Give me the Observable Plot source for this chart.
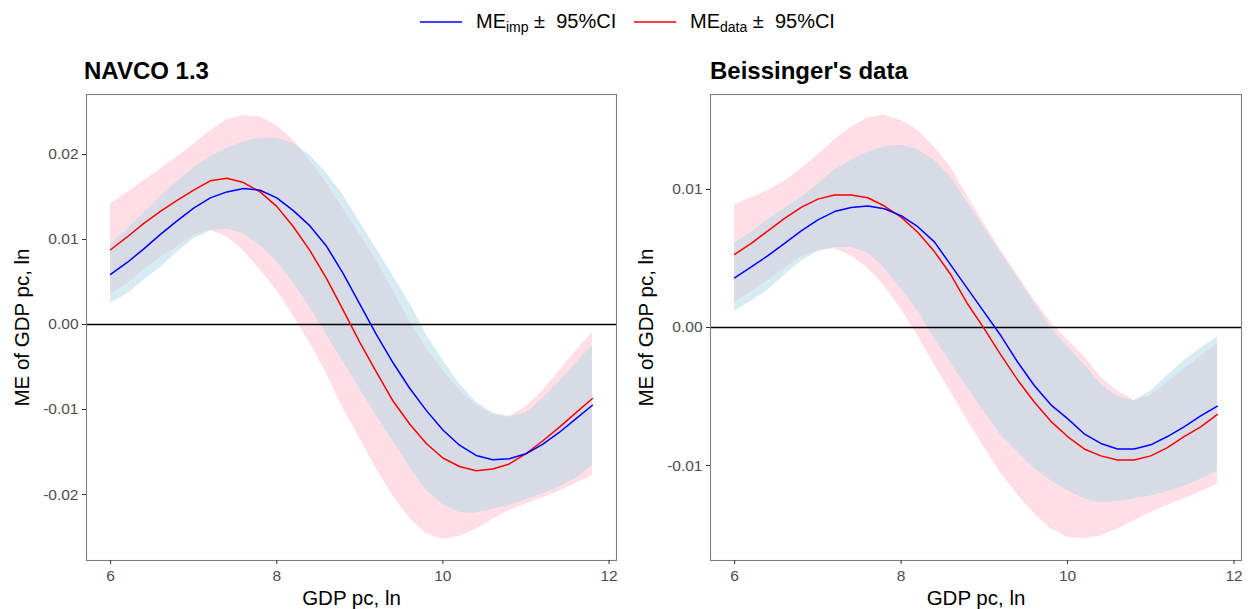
<!DOCTYPE html>
<html>
<head>
<meta charset="utf-8">
<script src="https://cdn.jsdelivr.net/npm/d3@7"></script>
<script src="https://cdn.jsdelivr.net/npm/@observablehq/plot@0.6"></script>
<style>
  body { margin: 0; background: #fff; font-family: "Liberation Sans", Arial, Helvetica, sans-serif; }
  #wrap { position: relative; width: 1256px; height: 609px; overflow: hidden; }
  .panel { position: absolute; top: 0; }
  .title { position: absolute; top: 57px; font-weight: bold; font-size: 24px; color: #000; }
  #legend { position: absolute; top: 7px; left: 0; width: 1256px; height: 30px; font-size: 20px; color: #000; }
  #legend .item { position: absolute; top: 0; display: flex; align-items: center; height: 30px; }
  #legend svg { margin-right: 14px; }
  #legend sub { font-size: 14px; vertical-align: -4px; }
  .panel svg { font-family: "Liberation Sans", Arial, Helvetica, sans-serif; overflow: visible; }
  .panel g[aria-label="y-axis label"], .panel g[aria-label="x-axis label"] { font-size: 20.5px; fill: #000; }
  .panel g[aria-label="y-axis tick label"], .panel g[aria-label="x-axis tick label"] { font-size: 15.5px; fill: #4d4d4d; }
</style>
</head>
<body>
<div id="wrap">
  <div id="legend">
    <div class="item" style="left:420px">
      <svg width="42" height="4"><line x1="0" y1="2" x2="42" y2="2" stroke="blue" stroke-width="1.6"/></svg>
      <span>ME<sub>imp</sub> ±&nbsp; 95%CI</span>
    </div>
    <div class="item" style="left:634px">
      <svg width="42" height="4"><line x1="0" y1="2" x2="42" y2="2" stroke="red" stroke-width="1.6"/></svg>
      <span>ME<sub>data</sub> ±&nbsp; 95%CI</span>
    </div>
  </div>
  <div class="title" style="left:84px">NAVCO 1.3</div>
  <div class="title" style="left:710px">Beissinger's data</div>
  <div id="p1" class="panel" style="left:0px"></div>
  <div id="p2" class="panel" style="left:628px"></div>
</div>
<script>
// GDP pc (ln) grid
const gdp = [6.0,6.2,6.4,6.6,6.8,7.0,7.2,7.4,7.6,7.8,8.0,8.2,8.4,8.6,8.8,9.0,9.2,9.4,9.6,9.8,10.0,10.2,10.4,10.6,10.8,11.0,11.2,11.4,11.6,11.8];

// NAVCO 1.3 — ME_imp
const navcoImp   = [.0059,.0073,.0089,.0106,.0122,.0137,.0149,.0156,.0160,.0158,.0149,.0134,.0116,.0092,.0060,.0024,-.0012,-.0045,-.0075,-.0101,-.0124,-.0142,-.0154,-.0159,-.0158,-.0152,-.0141,-.0127,-.0111,-.0095];
const navcoImpLo = [.0025,.0036,.0052,.0067,.0085,.0101,.0110,.0112,.0107,.0093,.0074,.0049,.0020,-.0012,-.0044,-.0076,-.0107,-.0137,-.0168,-.0195,-.0212,-.0221,-.0222,-.0217,-.0213,-.0206,-.0199,-.0191,-.0181,-.0166];
const navcoImpHi = [.0093,.0112,.0131,.0150,.0168,.0184,.0197,.0207,.0215,.0219,.0219,.0213,.0199,.0178,.0152,.0120,.0089,.0057,.0025,-.0012,-.0042,-.0070,-.0091,-.0104,-.0109,-.0104,-.0088,-.0067,-.0046,-.0025];
// NAVCO 1.3 — ME_data
const navcoData   = [.0088,.0103,.0119,.0133,.0146,.0158,.0169,.0172,.0167,.0156,.0139,.0115,.0087,.0054,.0017,-.0021,-.0056,-.0090,-.0117,-.0140,-.0157,-.0167,-.0172,-.0170,-.0164,-.0152,-.0137,-.0121,-.0104,-.0087];
const navcoDataLo = [.0036,.0048,.0064,.0079,.0091,.0105,.0111,.0103,.0087,.0064,.0040,.0010,-.0022,-.0058,-.0099,-.0134,-.0170,-.0202,-.0228,-.0246,-.0253,-.0249,-.0241,-.0229,-.0219,-.0211,-.0204,-.0196,-.0187,-.0178];
const navcoDataHi = [.0142,.0155,.0169,.0183,.0197,.0212,.0228,.0241,.0246,.0244,.0234,.0217,.0193,.0166,.0136,.0106,.0075,.0040,.0004,-.0028,-.0054,-.0077,-.0095,-.0106,-.0108,-.0097,-.0078,-.0055,-.0031,-.0009];

// Beissinger's data — ME_imp
const beisImp   = [.0036,.0044,.0052,.0061,.0070,.0078,.0084,.0087,.0088,.0086,.0081,.0073,.0062,.0045,.0028,.0011,-.0006,-.0025,-.0042,-.0056,-.0066,-.0077,-.0084,-.0088,-.0088,-.0085,-.0079,-.0072,-.0064,-.0057];
const beisImpLo = [.0012,.0019,.0027,.0038,.0048,.0055,.0058,.0058,.0054,.0043,.0028,.0012,-.0008,-.0026,-.0044,-.0061,-.0078,-.0090,-.0102,-.0111,-.0118,-.0124,-.0127,-.0126,-.0124,-.0122,-.0119,-.0115,-.0110,-.0104];
const beisImpHi = [.0061,.0069,.0078,.0086,.0094,.0104,.0114,.0121,.0127,.0131,.0132,.0129,.0121,.0109,.0090,.0072,.0054,.0036,.0018,.0000,-.0014,-.0027,-.0041,-.0050,-.0053,-.0046,-.0035,-.0024,-.0015,-.0007];
// Beissinger's data — ME_data
const beisData   = [.0053,.0061,.0070,.0079,.0087,.0093,.0096,.0096,.0094,.0088,.0080,.0069,.0055,.0038,.0017,-.0001,-.0020,-.0038,-.0054,-.0068,-.0079,-.0088,-.0093,-.0096,-.0096,-.0093,-.0087,-.0079,-.0072,-.0063];
const beisDataLo = [.0018,.0026,.0034,.0043,.0051,.0056,.0057,.0052,.0043,.0030,.0013,-.0006,-.0027,-.0047,-.0068,-.0087,-.0106,-.0121,-.0135,-.0146,-.0152,-.0153,-.0151,-.0146,-.0140,-.0134,-.0129,-.0124,-.0119,-.0114];
const beisDataHi = [.0089,.0094,.0099,.0106,.0115,.0125,.0136,.0145,.0152,.0154,.0150,.0143,.0131,.0116,.0095,.0075,.0056,.0038,.0020,.0004,-.0009,-.0021,-.0036,-.0046,-.0053,-.0049,-.0040,-.0030,-.0021,-.0012];

const xTicks = [6, 8, 10, 12];
const yTicksNavco = [-0.02, -0.01, 0, 0.01, 0.02];
const yTicksBeis = [-0.01, 0, 0.01];

function rows(mid, lo, hi) {
  return gdp.map((x, i) => ({x, y: mid[i], lo: lo[i], hi: hi[i]}));
}

function panel(imp, data, yDomain, yTicks, marginLeft, marginRight) {
  return Plot.plot({
    width: 628,
    height: 609,
    marginTop: 94,
    marginBottom: 49,
    marginLeft,
    marginRight,
    style: {background: "transparent", overflow: "visible"},
    x: {domain: [5.71, 12.09]},
    y: {domain: yDomain},
    marks: [
      Plot.areaY(data, {x: "x", y1: "lo", y2: "hi", fill: "#FFC0CB", fillOpacity: 0.5, curve: "linear"}),
      Plot.areaY(imp, {x: "x", y1: "lo", y2: "hi", fill: "#ADD8E6", fillOpacity: 0.5, curve: "linear"}),
      Plot.ruleY([0], {stroke: "#000", strokeWidth: 1.6}),
      Plot.line(data, {x: "x", y: "y", stroke: "#FF0000", strokeWidth: 1.5}),
      Plot.line(imp, {x: "x", y: "y", stroke: "#0000FF", strokeWidth: 1.5}),
      Plot.frame({stroke: "#7f7f7f", strokeWidth: 1.1}),
      Plot.axisY({ticks: yTicks, tickFormat: d => d.toFixed(2), tickSize: 4, tickPadding: 4, stroke: "#333",
                  label: "ME of GDP pc, ln", labelArrow: "none", labelAnchor: "center", labelOffset: 72}),
      Plot.axisX({ticks: xTicks, tickFormat: d => String(d), tickSize: 4, tickPadding: 5, stroke: "#333",
                  label: "GDP pc, ln", labelArrow: "none", labelAnchor: "center", labelOffset: 44})
    ]
  });
}

document.getElementById("p1").append(
  panel(rows(navcoImp, navcoImpLo, navcoImpHi), rows(navcoData, navcoDataLo, navcoDataHi),
        [-0.02776, 0.02706], yTicksNavco, 86, 12));
document.getElementById("p2").append(
  panel(rows(beisImp, beisImpLo, beisImpHi), rows(beisData, beisDataLo, beisDataHi),
        [-0.01688, 0.01688], yTicksBeis, 82, 15));
</script>
</body>
</html>
